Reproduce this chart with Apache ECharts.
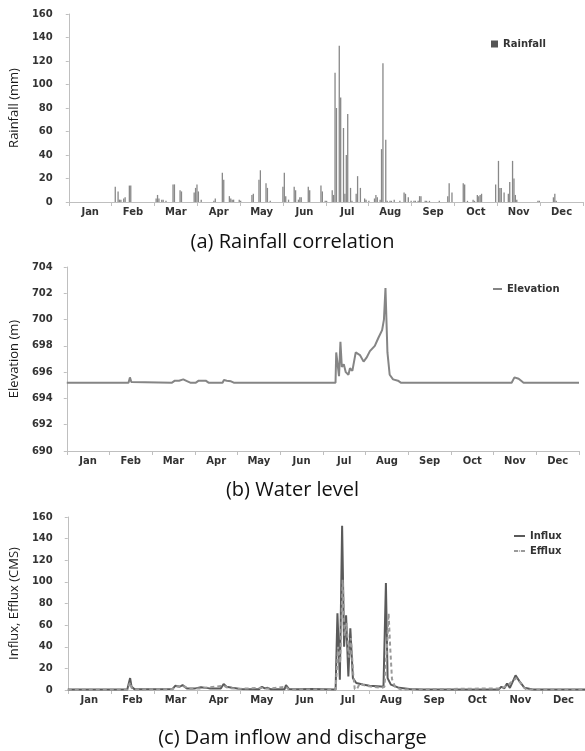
<!DOCTYPE html>
<html>
<head>
<meta charset="utf-8">
<script src="https://cdn.jsdelivr.net/npm/echarts@6/dist/echarts.min.js"></script>
<style>
  html, body { margin: 0; padding: 0; background: #ffffff; }
  #chart { width: 585px; height: 751px; }
</style>
</head>
<body>
<div id="chart"></div>
<script>
// Month labels shown under every panel
const months = ['Jan', 'Feb', 'Mar', 'Apr', 'May', 'Jun', 'Jul', 'Aug', 'Sep', 'Oct', 'Nov', 'Dec'];

// Daily rainfall: [day of year, mm]
const rainfall = [
  [33, 13], [35, 9], [36, 2], [37, 2], [39, 3], [40, 4], [43, 14], [44, 14],
  [62, 3], [63, 6], [64, 3], [66, 2], [67, 2], [69, 1], [74, 15], [75, 15], [79, 10], [80, 9],
  [89, 8], [90, 12], [91, 15], [92, 9], [94, 2], [103, 1], [104, 3], [109, 25], [110, 19],
  [114, 5], [115, 3], [116, 2], [117, 2], [121, 2], [122, 1], [130, 6], [131, 7], [135, 19], [136, 27],
  [140, 16], [141, 12], [143, 1], [152, 13], [153, 25], [154, 5], [156, 2], [160, 13], [161, 10],
  [163, 2], [164, 4], [165, 4], [170, 13], [171, 10], [179, 14], [180, 9], [182, 1], [183, 1],
  [187, 10], [188, 6], [189, 110], [190, 80], [192, 133], [193, 89], [195, 63], [196, 7], [197, 40],
  [198, 75], [200, 12], [201, 1], [204, 7], [205, 22], [207, 12], [210, 3], [211, 2], [213, 1],
  [217, 3], [218, 6], [219, 4], [221, 2], [222, 45], [223, 118], [225, 53], [226, 1], [228, 1], [229, 1],
  [231, 2], [235, 1], [238, 8], [239, 7], [241, 4], [243, 1], [245, 1], [246, 1], [248, 1], [249, 5], [250, 5],
  [253, 1], [254, 1], [256, 1], [263, 1], [269, 5], [270, 16], [272, 8], [280, 16], [281, 15], [283, 1],
  [287, 2], [288, 1], [290, 6], [291, 5], [292, 6], [293, 7], [303, 15], [305, 35], [306, 12], [307, 12],
  [309, 8], [312, 7], [313, 17], [315, 35], [316, 20], [317, 6], [318, 2], [333, 1], [334, 1],
  [344, 4], [345, 7], [346, 1]
];

// Reservoir water level: [day of year, elevation m]
const elevation = [
  [0, 695.2], [44, 695.2], [45, 695.6], [46, 695.25], [47, 695.2],
  [75, 695.2], [77, 695.35], [80, 695.35], [83, 695.45], [86, 695.3], [88, 695.2],
  [92, 695.2], [94, 695.35], [99, 695.35], [101, 695.2],
  [111, 695.2], [112, 695.4], [114, 695.35], [117, 695.3], [119, 695.2],
  [138, 695.2], [139, 695.3], [140, 695.2], [155, 695.2], [156, 695.3], [157, 695.2],
  [191.5, 695.2], [192, 697.5], [194, 695.7], [195, 698.3], [196, 696.4], [197.4, 696.6],
  [198.8, 696.0], [200.7, 695.8], [201.8, 696.3], [203.5, 696.1], [205.9, 697.5], [208.9, 697.3],
  [211.5, 696.8], [213.6, 697.1], [216, 697.6], [219.5, 698.0], [222, 698.6], [224.7, 699.2],
  [226, 700.0], [227.1, 702.4], [228.5, 697.5], [230.1, 695.8], [232.5, 695.45], [236, 695.35],
  [238, 695.2], [308, 695.2], [309, 695.3], [310, 695.2], [317, 695.2], [319, 695.6], [322, 695.5],
  [325.5, 695.2], [365, 695.2]
];

// Dam inflow: [day of year, CMS]
const influx = [
  [0, 0.5], [42, 0.5], [43, 2], [44, 11], [45, 3], [47, 0.8], [74, 1], [76, 4], [77, 4.5], [79, 3],
  [81, 4.5], [84, 1.5], [90, 1.5], [94, 2.5], [100, 1.5], [108, 1.5], [110, 5.5], [112, 3], [116, 2],
  [122, 1], [135, 0.8], [137, 3], [139, 1.5], [141, 2], [143, 0.8], [153, 0.8], [154, 4.5], [156, 1],
  [161, 0.6], [162, 2], [163, 0.6], [172, 1], [189, 0.5], [190.3, 71], [192, 9.5], [193.6, 152],
  [195, 40], [196.4, 69], [198, 12.6], [199.4, 57], [201.2, 11], [203.6, 6.5], [208.2, 5], [212.9, 4],
  [221.1, 3.3], [222.8, 3], [224.5, 99], [225.7, 11], [228, 5], [233.8, 2], [241, 1], [250, 0.5],
  [304, 0.5], [306, 3], [308, 1.5], [310, 6], [312, 2], [316, 13.5], [318.8, 8], [322.3, 2],
  [328, 0.5], [365, 0.5]
];

// Dam discharge: [day of year, CMS]
const efflux = [
  [0, 0.3], [42, 0.3], [43, 1], [44, 7], [45, 2], [47, 0.5], [74, 0.8], [76, 3], [78, 3.5], [80, 3],
  [82, 3.5], [85, 1], [94, 1.5], [110, 4], [113, 2], [120, 1], [137, 2], [139, 1], [154, 3], [156, 0.5],
  [189, 0.3], [190.8, 40], [192.2, 25], [194, 102], [195.4, 50], [196.8, 62], [198.3, 30], [199.8, 48],
  [201.4, 15], [202.5, 1], [204, 0.5], [206, 6], [210, 4], [215, 3], [221.5, 2], [223.5, 3],
  [225.5, 45], [226.4, 71], [227.5, 40], [228.8, 10], [231, 3], [235, 0.5], [306, 1.5], [310, 4],
  [316.5, 11], [319.2, 7], [323, 1], [328, 0.3], [365, 0.3]
];

const tickFont = { fontFamily: 'DejaVu Sans', fontWeight: 'bold', fontSize: 10, color: '#333333' };
const axisGrey = '#bfbfbf';

function monthAxis(gridIndex) {
  return {
    type: 'category', gridIndex: gridIndex, data: months, boundaryGap: true,
    axisLine: { lineStyle: { color: axisGrey, width: 1 } },
    axisTick: { show: true, length: 4, lineStyle: { color: axisGrey } },
    axisLabel: Object.assign({ margin: 5 }, tickFont),
    splitLine: { show: false }
  };
}
function dayAxis(gridIndex) {
  return { type: 'value', gridIndex: gridIndex, min: 0, max: 365, show: false };
}
function valueAxis(gridIndex, min, max, interval, name, nameGap, margin) {
  return {
    type: 'value', gridIndex: gridIndex, min: min, max: max, interval: interval,
    name: name, nameLocation: 'middle', nameGap: nameGap,
    nameTextStyle: { fontFamily: 'Open Sans', fontSize: 13, color: '#1a1a1a' },
    axisLine: { show: true, lineStyle: { color: axisGrey } },
    axisTick: { show: true, length: 3, lineStyle: { color: axisGrey } },
    axisLabel: Object.assign({ margin: margin }, tickFont),
    splitLine: { show: false }
  };
}

const titleStyle = { fontFamily: 'Open Sans', fontSize: 20, fontWeight: 'normal', color: '#111111' };
const legendText = { fontFamily: 'DejaVu Sans', fontWeight: 'bold', fontSize: 10, color: '#333333' };

const option = {
  backgroundColor: '#ffffff',
  animation: false,
  title: [
    { text: '(a) Rainfall correlation', left: 'center', top: 227, textStyle: titleStyle },
    { text: '(b) Water level', left: 'center', top: 475, textStyle: titleStyle },
    { text: '(c) Dam inflow and discharge', left: 'center', top: 723, textStyle: titleStyle }
  ],
  grid: [
    { left: 67, top: 14, width: 516, height: 188 },
    { left: 63, top: 267, width: 516, height: 184 },
    { left: 64, top: 517, width: 523, height: 173 }
  ],
  xAxis: [monthAxis(0), dayAxis(0), monthAxis(1), dayAxis(1), monthAxis(2), dayAxis(2)],
  yAxis: [
    valueAxis(0, 0, 160, 20, 'Rainfall (mm)', 38, 16),
    valueAxis(1, 690, 704, 2, 'Elevation (m)', 42, 14),
    valueAxis(2, 0, 160, 20, 'Influx, Efflux (CMS)', 42, 15)
  ],
  legend: [
    {
      data: [{ name: 'Rainfall', icon: 'rect', itemStyle: { color: '#555555' } }],
      left: 491, top: 39, itemWidth: 7, itemHeight: 7, padding: 0, textStyle: legendText
    },
    {
      data: ['Elevation'], left: 492, top: 284, itemWidth: 9, itemHeight: 2, padding: 0, textStyle: legendText
    },
    {
      data: ['Influx', 'Efflux'], orient: 'vertical', left: 513, top: 531, itemWidth: 11, itemHeight: 2,
      itemGap: 5, padding: 0, textStyle: legendText
    }
  ],
  series: [
    {
      name: 'Rainfall', type: 'bar', xAxisIndex: 1, yAxisIndex: 0, data: rainfall,
      barWidth: 1.3, itemStyle: { color: '#888888' }
    },
    {
      name: 'Elevation', type: 'line', xAxisIndex: 3, yAxisIndex: 1, data: elevation,
      symbol: 'none', lineStyle: { color: '#858585', width: 2 }, itemStyle: { color: '#858585' }
    },
    {
      name: 'Influx', type: 'line', xAxisIndex: 5, yAxisIndex: 2, data: influx,
      symbol: 'none', lineStyle: { color: '#5a5a5a', width: 2 }, itemStyle: { color: '#5a5a5a' }
    },
    {
      name: 'Efflux', type: 'line', xAxisIndex: 5, yAxisIndex: 2, data: efflux,
      symbol: 'none', lineStyle: { color: '#9a9a9a', width: 2, type: [4, 3] }, itemStyle: { color: '#9a9a9a' }
    }
  ]
};

const chart = echarts.init(document.getElementById('chart'));
chart.setOption(option);
</script>
</body>
</html>
